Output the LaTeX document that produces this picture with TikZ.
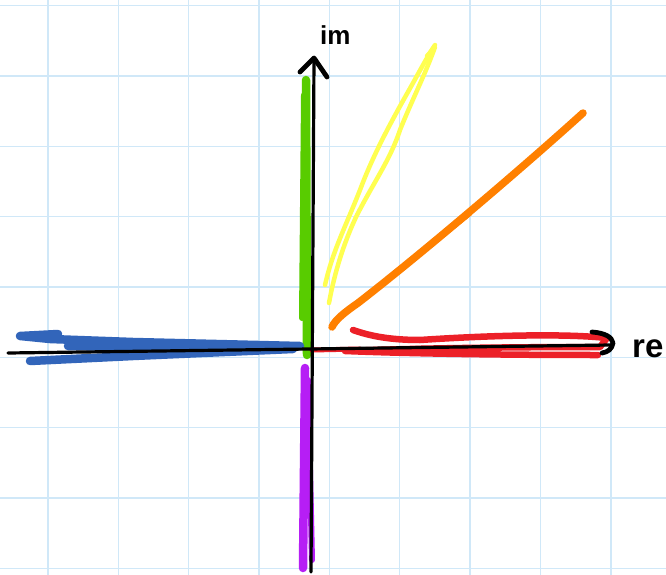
\documentclass[tikz,border=0pt]{standalone}
\usepackage{fontspec}
\setmainfont{Liberation Sans}
\definecolor{gridc}{RGB}{208,232,248}
\definecolor{grn}{RGB}{88,204,0}
\definecolor{prp}{RGB}{182,30,245}
\definecolor{blu}{RGB}{50,101,186}
\definecolor{rd}{RGB}{236,32,40}
\definecolor{org}{RGB}{255,128,0}
\definecolor{ylw}{RGB}{255,255,80}
\begin{document}
\begin{tikzpicture}[x=1pt,y=-1pt,
  pen/.style={line cap=round,line join=round},
  axis/.style={pen,black,line width=3.2pt},
  tip/.style={pen,black,line width=4.8pt},
  gridline/.style={gridc,line width=1.4pt},
  lbl/.style={inner sep=0pt,anchor=base west,black}]
\useasboundingbox[fill=white] (0,0) rectangle (666,575);
% grid
\foreach \k in {0,...,8} {
  \draw[gridline] ({48+70.35*\k},0) -- ({48+70.35*\k},575);
  \draw[gridline] (0,{5.5+70.35*\k}) -- (666,{5.5+70.35*\k});
}
% named points
\coordinate (O) at (312,350);
\coordinate (top) at (314,58);
\coordinate (bot) at (311,572);
\coordinate (left) at (8,353);
\coordinate (right) at (611,345);
% yellow
\draw[pen,ylw,line width=4.5pt] (325,285) .. controls (333,250) and (345,228) .. (360,190)
  .. controls (375,150) and (395,115) .. (413,83) .. controls (423,65) and (430,52) .. (435,45);
\draw[pen,ylw,line width=4.5pt] (329,303) .. controls (335,270) and (345,240) .. (357,215)
  .. controls (375,180) and (390,160) .. (400,130) .. controls (412,100) and (425,75) .. (435,47)
  -- (427,56);
% orange
\draw[pen,org,line width=7.5pt] (332,327) .. controls (335,320) and (345,312) .. (358,303)
  .. controls (420,255) and (520,170) .. (583,113);
\draw[pen,org,line width=4pt] (400,270) -- (470,214);
% green
\draw[pen,grn,line width=8.5pt] (306,80) -- (307,355);
\draw[pen,grn,line width=6pt] (304,95) -- (302,318);
% purple
\draw[pen,prp,line width=8.5pt] (305,368) -- (303,568);
\draw[pen,prp,line width=6pt] (308,380) -- (312,560);
% blue
\draw[pen,blu,line width=8.5pt] (58,334) -- (20,336) -- (50,339) -- (133,342) -- (300,346)
  -- (68,346) -- (293,349) -- (133,356) -- (30,361);
% red
\draw[pen,rd,line width=6.5pt] (353,330) .. controls (370,336) and (390,340) .. (420,340)
  .. controls (480,336) and (560,333) .. (607,338) -- (600,347)
  .. controls (520,347) and (420,348) .. (345,351) .. controls (420,354) and (520,355) .. (598,355);
\draw[pen,rd,line width=5pt] (O) -- (360,349);
% axes
\draw[axis] (bot) -- (top);
\draw[axis] (left) -- (right);
\draw[tip] (300,72) -- (top) -- (327,77);
\draw[tip] (592,332) .. controls (605,333) and (612,337) .. (613,343) .. controls (612,349) and (608,352) .. (602,353);
% labels
\node[lbl,font=\bfseries\fontsize{26}{26}\selectfont] (im) at (320,45) {im};
\node[lbl,font=\bfseries\fontsize{33}{33}\selectfont] (re) at (632,357) {re};
\end{tikzpicture}
\end{document}
